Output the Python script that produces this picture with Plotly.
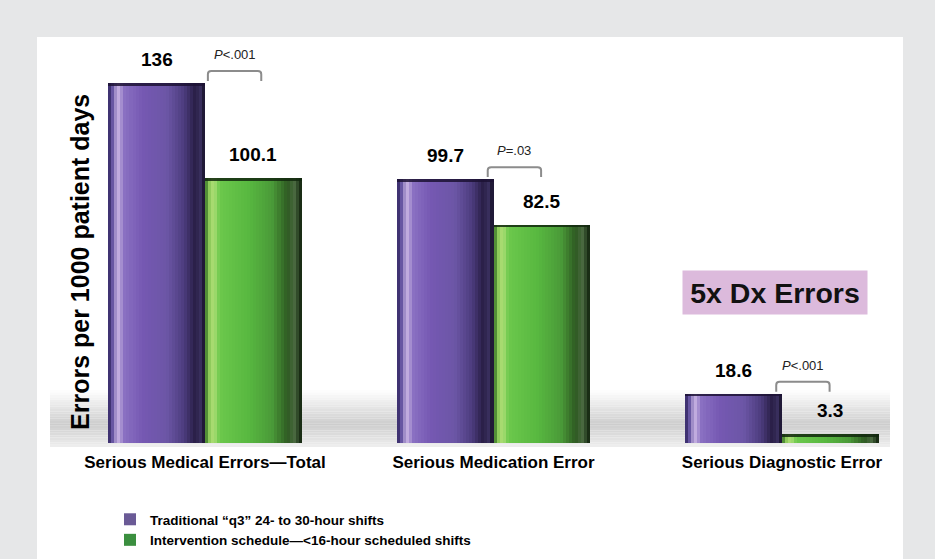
import plotly.graph_objects as go

# ---- data -------------------------------------------------------------
categories = ["Serious Medical Errors\u2014Total", "Serious Medication Error", "Serious Diagnostic Error"]
series_names = ["Traditional \u201cq3\u201d 24- to 30-hour shifts",
                "Intervention schedule\u2014<16-hour scheduled shifts"]
traditional = [136, 99.7, 18.6]
intervention = [100.1, 82.5, 3.3]
p_labels = ["<i>P</i><.001", "<i>P</i>=.03", "<i>P</i><.001"]
callout_text = "5x Dx Errors"
y_title = "Errors per 1000 patient days"

# ---- styling ------------------------------------------------------------
FONT = "Liberation Sans, Arial, sans-serif"
legend_colors = ["#6a5a96", "#3b8f3f"]
cap_colors = ["rgba(28,18,52,0.85)", "rgba(18,40,14,0.85)"]
# horizontal shading profiles giving each bar a cylindrical look
shade_stops = [
    [(0.00, "#2e2258"), (0.04, "#5a4a9a"), (0.10, "#c8b4e2"), (0.17, "#8a70c2"),
     (0.35, "#7558b2"), (0.60, "#6c56a6"), (0.78, "#4c3c7e"), (0.90, "#281e44"),
     (0.95, "#3a3060"), (1.00, "#140e24")],
    [(0.00, "#2e6a20"), (0.04, "#8ac858"), (0.09, "#b0e078"), (0.15, "#6cc84c"),
     (0.45, "#58b840"), (0.70, "#4a9a38"), (0.85, "#2e5a22"), (0.92, "#4a6a40"),
     (1.00, "#0e1e0a")],
]
bar_w = 0.335
offsets = [-bar_w, 0.0]
n_slices = 32
cap = 1.0  # thickness of the darker rim at each bar top, in axis units

# pixel frame of the plotting area inside the 935x559 page
W, H = 935, 559
PL, PR, PT, PB = 50, 890, 40, 443
x_range = [(PL - 205) / 288.5, (PR - 205) / 288.5]
y_top = (PB - PT) / 2.647
y_range = [0, y_top]


def hex2rgb(h):
    h = h.lstrip("#")
    return tuple(int(h[i:i + 2], 16) for i in (0, 2, 4))


def interp(stops, t):
    for (t0, c0), (t1, c1) in zip(stops, stops[1:]):
        if t0 <= t <= t1:
            f = (t - t0) / (t1 - t0) if t1 > t0 else 0
            a, b = hex2rgb(c0), hex2rgb(c1)
            return "rgb(%d,%d,%d)" % tuple(round(a[k] + (b[k] - a[k]) * f) for k in range(3))
    return stops[-1][1]


def px_x(p):
    return (p - PL) / (PR - PL)


def px_y(p):
    return (PB - p) / (PB - PT)


xpos = list(range(len(categories)))
fig = go.Figure()

for s, (name, vals) in enumerate(zip(series_names, [traditional, intervention])):
    # solid base bar (also provides the legend swatch)
    fig.add_trace(go.Bar(x=xpos, y=vals, name=name, width=bar_w, offset=offsets[s],
                         marker=dict(color=legend_colors[s], line=dict(width=0)),
                         showlegend=True, hoverinfo="skip"))
    sw = bar_w / n_slices
    for i in range(n_slices):
        col = interp(shade_stops[s], (i + 0.5) / n_slices)
        wdt = sw * (1.35 if i < n_slices - 1 else 1.0)
        fig.add_trace(go.Bar(x=xpos, y=vals, width=wdt, offset=offsets[s] + i * sw,
                             marker=dict(color=col, line=dict(width=0)),
                             showlegend=False, hoverinfo="skip"))
    # darker rim along the top of each bar
    fig.add_trace(go.Bar(x=xpos, y=[cap] * len(vals), base=[v - cap for v in vals],
                         width=bar_w, offset=offsets[s],
                         marker=dict(color=cap_colors[s], line=dict(width=0)),
                         showlegend=False, hoverinfo="skip"))
    # value labels
    for g, v in enumerate(vals):
        fig.add_annotation(x=g + offsets[s] + bar_w / 2, y=v, text="<b>%s</b>" % v,
                           showarrow=False, yanchor="bottom", yshift=11,
                           font=dict(family=FONT, size=19, color="#000"))

# significance brackets
bracket_shift = [0.03, 0.0, 0.0]
for g, (v, lab) in enumerate(zip(traditional, p_labels)):
    x0 = g - 0.02 + bracket_shift[g]
    x1 = g + 0.165 + bracket_shift[g]
    top = v + 4.5
    bot = v + 0.8
    r = 1.2
    ex = 0.012
    path = (f"M{x0},{bot} L{x0},{top - r} Q{x0},{top} {x0 + ex},{top} "
            f"L{x1 - ex},{top} Q{x1},{top} {x1},{top - r} L{x1},{bot}")
    fig.add_shape(type="path", path=path, xref="x", yref="y",
                  line=dict(color="#8c8c8c", width=2))
    fig.add_annotation(x=(x0 + x1) / 2, y=top, text=lab, showarrow=False,
                       yanchor="bottom", yshift=7,
                       font=dict(family=FONT, size=13, color="#222"))

# page background: grey frame with white panel
fig.add_shape(type="rect", xref="paper", yref="paper", layer="below",
              x0=px_x(37), x1=px_x(903), y0=px_y(H + 5), y1=px_y(37),
              fillcolor="white", line=dict(width=0))

# soft floor shadow behind the bars
band_top, band_bot = 390, 447
steps = 24
for k in range(steps):
    y0p = band_top + (band_bot - band_top) * k / steps
    y1p = band_top + (band_bot - band_top) * (k + 1) / steps
    t = (k + 0.5) / steps
    d = max(0.0, 1 - abs(t - 0.6) / 0.6)
    g = round(255 - 50 * d)
    fig.add_shape(type="rect", xref="paper", yref="paper", layer="below",
                  x0=px_x(50), x1=px_x(890), y0=px_y(y1p), y1=px_y(y0p),
                  fillcolor="rgb(%d,%d,%d)" % (g, g, g), line=dict(width=0))

# y-axis title
fig.add_annotation(xref="paper", yref="paper", x=px_x(80), y=px_y(262),
                   xanchor="center", yanchor="middle",
                   text="<b>%s</b>" % y_title, textangle=-90, showarrow=False,
                   font=dict(family=FONT, size=25, color="#000"))

# callout box
fig.add_annotation(xref="paper", yref="paper", x=px_x(775), y=px_y(292.5),
                   xanchor="center", yanchor="middle",
                   text="<b>%s</b>" % callout_text, showarrow=False,
                   width=182, height=41, bgcolor="#dcbadc",
                   font=dict(family=FONT, size=28.5, color="#111"))

fig.update_layout(
    width=W, height=H,
    margin=dict(l=PL, r=W - PR, t=PT, b=H - PB, autoexpand=False),
    paper_bgcolor="#e6e7e8", plot_bgcolor="rgba(0,0,0,0)",
    barmode="overlay", bargap=0,
    showlegend=True,
    legend=dict(x=px_x(110), y=px_y(504), xanchor="left", yanchor="top",
                bgcolor="rgba(0,0,0,0)", tracegroupgap=0, itemclick=False,
                font=dict(family=FONT, size=13.5, color="#000", weight="bold")),
    xaxis=dict(range=x_range, tickvals=xpos, ticktext=categories, showgrid=False,
               zeroline=False, showline=False, ticks="", automargin=False,
               ticklabelstandoff=7,
               tickfont=dict(family=FONT, size=17, color="#000", weight="bold")),
    yaxis=dict(range=y_range, showgrid=False, zeroline=False, showline=False,
               showticklabels=False, ticks="", automargin=False),
)

fig.write_html("out.html")
